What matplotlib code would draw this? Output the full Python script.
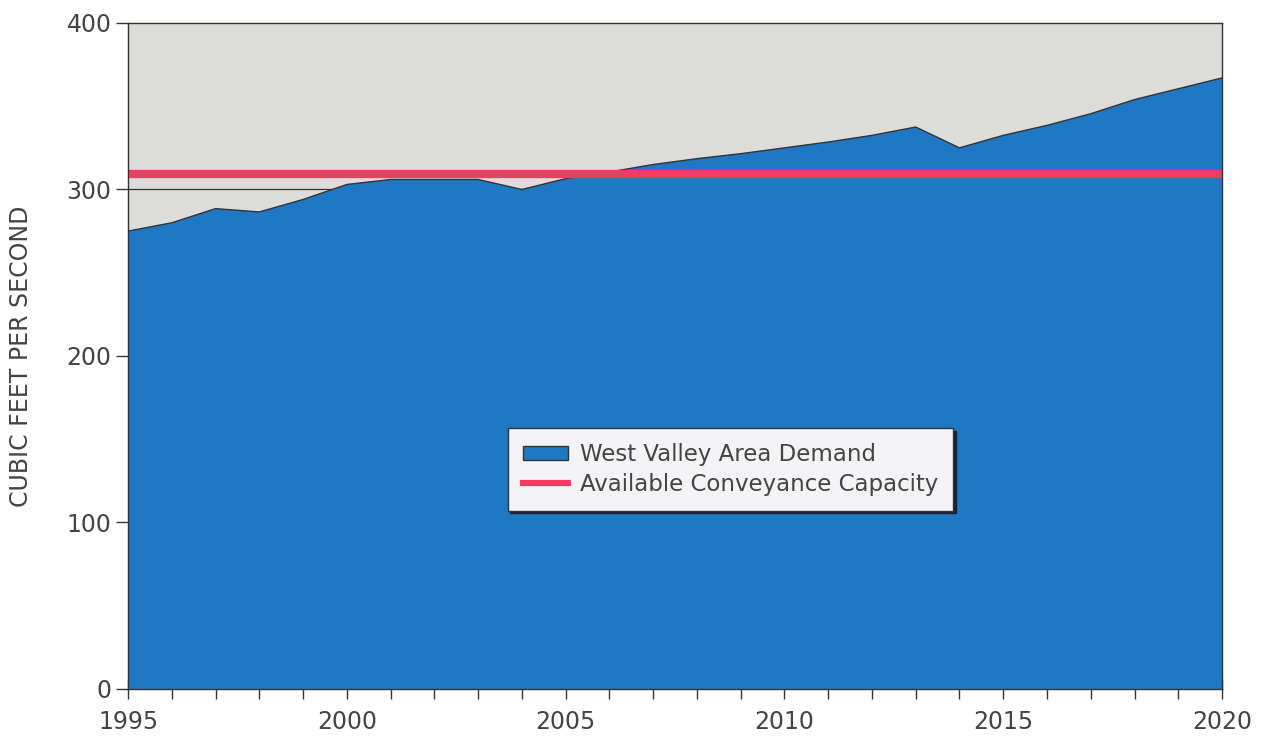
import numpy as np
import matplotlib.pyplot as plt
from matplotlib.patches import Patch
from matplotlib.lines import Line2D

## DATA ----------------
years = list(range(1995, 2021))
demand = [275, 280, 288.5, 286.5, 294, 303, 306, 306, 306, 300,
          306.5, 310.5, 315, 318.5, 321.5, 325, 328.5, 332.5, 337.5, 325,
          332.5, 338.5, 345.5, 354, 360.5, 367]
capacity = 309

tick_years = [1995, 2000, 2005, 2010, 2015, 2020]
y_ticks = [0, 100, 200, 300, 400]

## STYLE ----------------
blue = '#1f78c4'
red = '#ee3d63'
bg_gray = '#dcdcda'
txt = '#444444'

plt.rcParams['font.family'] = ['DejaVu Sans']

fig = plt.figure(figsize=(12.64, 7.39), dpi=100)
ax = fig.add_axes([0.1013, 0.0677, 0.8655, 0.9012])
ax.set_facecolor(bg_gray)

# grid line behind the area (only visible at 300)
for v in y_ticks[1:-1]:
    ax.axhline(v, color='#333333', lw=0.9, zorder=1)

ax.fill_between(years, demand, 0, color=blue, zorder=2, edgecolor='none')
ax.plot(years, demand, color='#333333', lw=1.0, zorder=3)
ax.axhline(capacity, color=red, lw=6, zorder=4)

ax.set_xlim(1995, 2020)
ax.set_ylim(0, 400)

ax.set_xticks(years, minor=True)
ax.set_xticks(tick_years)
ax.set_xticklabels([str(y) for y in tick_years])
ax.tick_params(axis='x', which='both', direction='inout', length=14,
               width=1, color='#333333', labelsize=17, labelcolor=txt, pad=8)
ax.set_yticks(y_ticks)
ax.tick_params(axis='y', direction='out', length=9, width=1,
               color='#333333', labelsize=17, labelcolor=txt, pad=3)

for s in ax.spines.values():
    s.set_color('#333333')
    s.set_linewidth(1.0)
    s.set_zorder(5)

ax.set_ylabel('CUBIC FEET PER SECOND', fontsize=17, color=txt, labelpad=24)

# legend
handles = [Patch(facecolor=blue, edgecolor='#333333', lw=1.0),
           Line2D([0], [0], color=red, lw=4.5)]
leg = ax.legend(handles, ['West Valley Area Demand', 'Available Conveyance Capacity'],
                loc='upper left', bbox_to_anchor=(0.347, 0.392),
                fontsize=16.5, frameon=True, fancybox=False,
                shadow={'color': '#1a1a2a', 'alpha': 0.9},
                handlelength=2.0, handleheight=0.55, borderpad=0.65,
                labelspacing=0.3, handletextpad=0.5, borderaxespad=0)
leg.get_frame().set_facecolor('#f4f4f6')
leg.get_frame().set_edgecolor('#333333')
leg.get_frame().set_linewidth(1.0)
leg.get_frame().set_alpha(1)
for t in leg.get_texts():
    t.set_color(txt)
leg.set_zorder(10)

fig.savefig('out.png', dpi=100)
